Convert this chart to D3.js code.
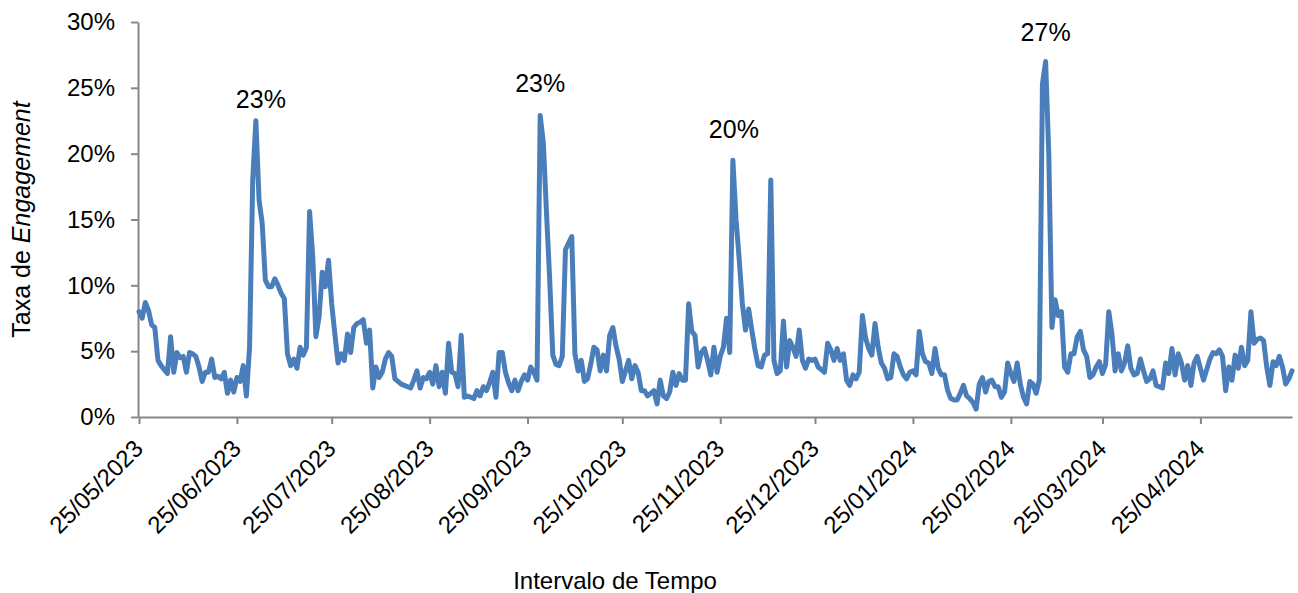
<!DOCTYPE html>
<html>
<head>
<meta charset="utf-8">
<script src="https://cdn.jsdelivr.net/npm/d3@7"></script>
<style>
  html, body { margin: 0; padding: 0; background: #ffffff; }
  svg { display: block; font-family: "Liberation Sans", Arial, sans-serif; }
</style>
</head>
<body>
<svg id="chart" width="1298" height="593"></svg>
<script>
// ---------------- DATA ----------------
const startDate = "25/05/2023";
const endDate = "24/05/2024";
// daily engagement rate (%) starting at 25/05/2023
const rates = [
  8.0, 7.5, 8.7, 8.1, 7.0, 6.8, 4.3, 3.9, 3.6, 3.3,
  6.1, 3.4, 4.9, 4.5, 4.6, 3.4, 4.9, 4.8, 4.6, 3.8,
  2.7, 3.4, 3.4, 4.4, 3.0, 3.1, 2.9, 3.4, 1.8, 2.8,
  1.9, 3.0, 2.7, 3.9, 1.6, 5.3, 18.0, 22.5, 16.5, 14.7,
  10.4, 9.9, 9.9, 10.5, 10.0, 9.4, 9.0, 4.8, 3.9, 4.4,
  3.7, 5.3, 4.7, 5.3, 15.6, 12.2, 6.1, 7.6, 11.0, 9.9,
  11.9, 8.6, 6.3, 4.1, 4.8, 4.3, 6.3, 4.9, 6.8, 7.1,
  7.2, 7.4, 5.6, 6.6, 2.2, 3.8, 3.0, 3.4, 4.4, 4.9,
  4.6, 2.9, 2.7, 2.5, 2.4, 2.3, 2.2, 2.8, 3.5, 2.2,
  3.0, 2.9, 3.4, 2.5, 3.9, 2.3, 3.4, 1.8, 5.6, 3.4,
  3.3, 2.3, 6.2, 1.5, 1.6, 1.5, 1.4, 2.0, 1.6, 2.3,
  2.0, 2.6, 3.4, 1.5, 4.9, 4.9, 3.4, 2.6, 2.0, 2.8,
  2.0, 2.7, 3.2, 2.8, 3.8, 3.4, 2.8, 22.9, 20.8, 15.5,
  10.5, 4.7, 4.0, 3.9, 4.6, 12.7, 13.2, 13.7, 4.8, 3.5,
  4.3, 2.7, 2.9, 4.0, 5.3, 5.1, 3.5, 4.7, 3.5, 6.2,
  6.8, 5.4, 4.4, 2.7, 3.5, 4.3, 2.9, 3.9, 3.4, 2.0,
  2.0, 1.6, 1.8, 2.0, 1.0, 2.8, 1.6, 1.4, 1.9, 3.4,
  2.4, 3.3, 2.8, 2.8, 8.6, 6.5, 6.2, 3.8, 4.9, 5.2,
  4.3, 3.2, 5.3, 3.4, 4.6, 5.3, 7.5, 4.9, 19.5, 15.0,
  12.0, 8.6, 6.6, 8.2, 6.6, 5.1, 3.9, 3.8, 4.7, 4.8,
  18.0, 4.3, 3.3, 3.5, 7.3, 3.8, 5.8, 5.3, 4.6, 6.6,
  4.3, 3.7, 4.4, 4.3, 4.4, 3.8, 3.6, 3.4, 5.6, 5.1,
  4.3, 5.2, 4.3, 4.8, 2.8, 2.4, 3.2, 2.9, 3.4, 7.7,
  6.0, 5.2, 4.7, 7.1, 5.3, 4.1, 3.7, 2.9, 3.0, 4.8,
  4.6, 3.8, 3.2, 2.9, 3.4, 3.5, 3.2, 6.5, 4.8, 4.2,
  4.1, 3.3, 5.2, 3.7, 3.2, 3.2, 2.0, 1.4, 1.3, 1.3,
  1.8, 2.4, 1.6, 1.4, 1.1, 0.6, 2.5, 3.0, 1.9, 2.7,
  2.8, 2.3, 2.3, 1.5, 1.9, 4.1, 3.3, 2.7, 4.1, 2.5,
  1.5, 1.0, 2.7, 2.5, 1.8, 2.8, 25.3, 27.0, 20.0, 6.8,
  8.9, 7.7, 8.0, 3.8, 3.4, 4.8, 4.8, 6.1, 6.5, 5.1,
  4.6, 3.0, 3.2, 3.8, 4.2, 3.3, 4.0, 8.0, 6.3, 3.5,
  4.8, 3.5, 4.1, 5.4, 3.7, 3.2, 3.3, 4.4, 3.5, 2.7,
  2.9, 3.5, 2.4, 2.3, 2.2, 4.1, 3.3, 5.2, 3.2, 4.8,
  4.1, 2.8, 3.9, 2.4, 4.1, 4.6, 3.7, 2.8, 3.6, 4.4,
  4.9, 4.8, 5.1, 4.6, 2.0, 3.8, 2.8, 4.7, 3.7, 5.3,
  3.9, 4.3, 8.0, 5.6, 5.9, 6.0, 5.8, 3.8, 2.4, 4.2,
  3.9, 4.6, 3.8, 2.5, 2.9, 3.5
];
const xTickLabels = ["25/05/2023", "25/06/2023", "25/07/2023", "25/08/2023", "25/09/2023",
  "25/10/2023", "25/11/2023", "25/12/2023", "25/01/2024", "25/02/2024", "25/03/2024", "25/04/2024"];
const yTickValues = [0, 5, 10, 15, 20, 25, 30];
const peakDates = ["01/07/2023", "29/09/2023", "29/11/2023", "07/03/2024"];
const peakLabels = ["23%", "23%", "20%", "27%"];
const yTitle = ["Taxa de ", "Engagement"];
const xTitle = "Intervalo de Tempo";

// ---------------- LAYOUT / STYLE ----------------
const W = 1298, H = 593;
const plot = { left: 139, right: 1292, top: 22, bottom: 417 };
const lineColor = "#4a7ebb";
const axisColor = "#868686";
const fontSize = 24;
const labelShift = [{dx: 5, dy: -13}, {dx: 0, dy: -23}, {dx: 1, dy: -22}, {dx: 0, dy: -21}];

const parse = d3.utcParse("%d/%m/%Y");
const fmt = d3.utcFormat("%d/%m/%Y");
const t0 = parse(startDate);
const series = rates.map((v, i) => ({ date: d3.utcDay.offset(t0, i), value: v }));

const x = d3.scaleUtc().domain([t0, parse(endDate)]).range([plot.left, plot.right]);
const y = d3.scaleLinear().domain([0, 30]).range([plot.bottom, plot.top]);

const svg = d3.select("#chart");

// Y axis
const yAxis = d3.axisLeft(y).tickValues(yTickValues).tickFormat(d => d + "%")
  .tickSize(7).tickSizeOuter(0).tickPadding(16);
const gy = svg.append("g").attr("transform", `translate(${plot.left - 1},0)`).call(yAxis);
gy.select(".domain").attr("stroke", axisColor).attr("stroke-width", 2);
gy.selectAll(".tick line").attr("stroke", axisColor).attr("stroke-width", 2);
gy.selectAll(".tick text").attr("fill", "#000").style("font-size", fontSize + "px")
  .style("font-family", "'Liberation Sans', Arial, sans-serif");

// X axis
const xTicks = xTickLabels.map(parse);
const xAxis = d3.axisBottom(x).tickValues(xTicks).tickFormat(fmt).tickSize(7).tickSizeOuter(0);
const gx = svg.append("g").attr("transform", `translate(0,${plot.bottom})`).call(xAxis);
gx.select(".domain").attr("stroke", axisColor).attr("stroke-width", 2);
gx.selectAll(".tick line").attr("stroke", axisColor).attr("stroke-width", 2);
gx.selectAll(".tick text")
  .attr("fill", "#000")
  .style("font-size", fontSize + "px")
  .style("font-family", "'Liberation Sans', Arial, sans-serif")
  .attr("text-anchor", "end")
  .attr("dy", null)
  .attr("y", null)
  .attr("transform", "translate(5,33) rotate(-45)");

// Line
const line = d3.line().x(d => x(d.date)).y(d => y(d.value));
svg.append("path")
  .datum(series)
  .attr("fill", "none")
  .attr("stroke", lineColor)
  .attr("stroke-width", 5)
  .attr("stroke-linejoin", "round")
  .attr("stroke-linecap", "round")
  .attr("d", line);

// Peak labels
peakDates.forEach((ds, i) => {
  const dt = parse(ds);
  const pt = series.find(p => +p.date === +dt);
  svg.append("text")
    .attr("x", x(dt) + labelShift[i].dx)
    .attr("y", y(pt.value) + labelShift[i].dy)
    .attr("text-anchor", "middle")
    .style("font-size", "25px")
    .attr("fill", "#000")
    .text(peakLabels[i]);
});

// Axis titles
const yt = svg.append("text")
  .attr("transform", `translate(30,${(plot.top + plot.bottom) / 2}) rotate(-90)`)
  .attr("text-anchor", "middle")
  .style("font-size", "25px")
  .attr("fill", "#000");
yt.append("tspan").text(yTitle[0]);
yt.append("tspan").style("font-style", "italic").text(yTitle[1]);

svg.append("text")
  .attr("x", 615)
  .attr("y", 589)
  .attr("text-anchor", "middle")
  .style("font-size", fontSize + "px")
  .attr("fill", "#000")
  .text(xTitle);
</script>
</body>
</html>
